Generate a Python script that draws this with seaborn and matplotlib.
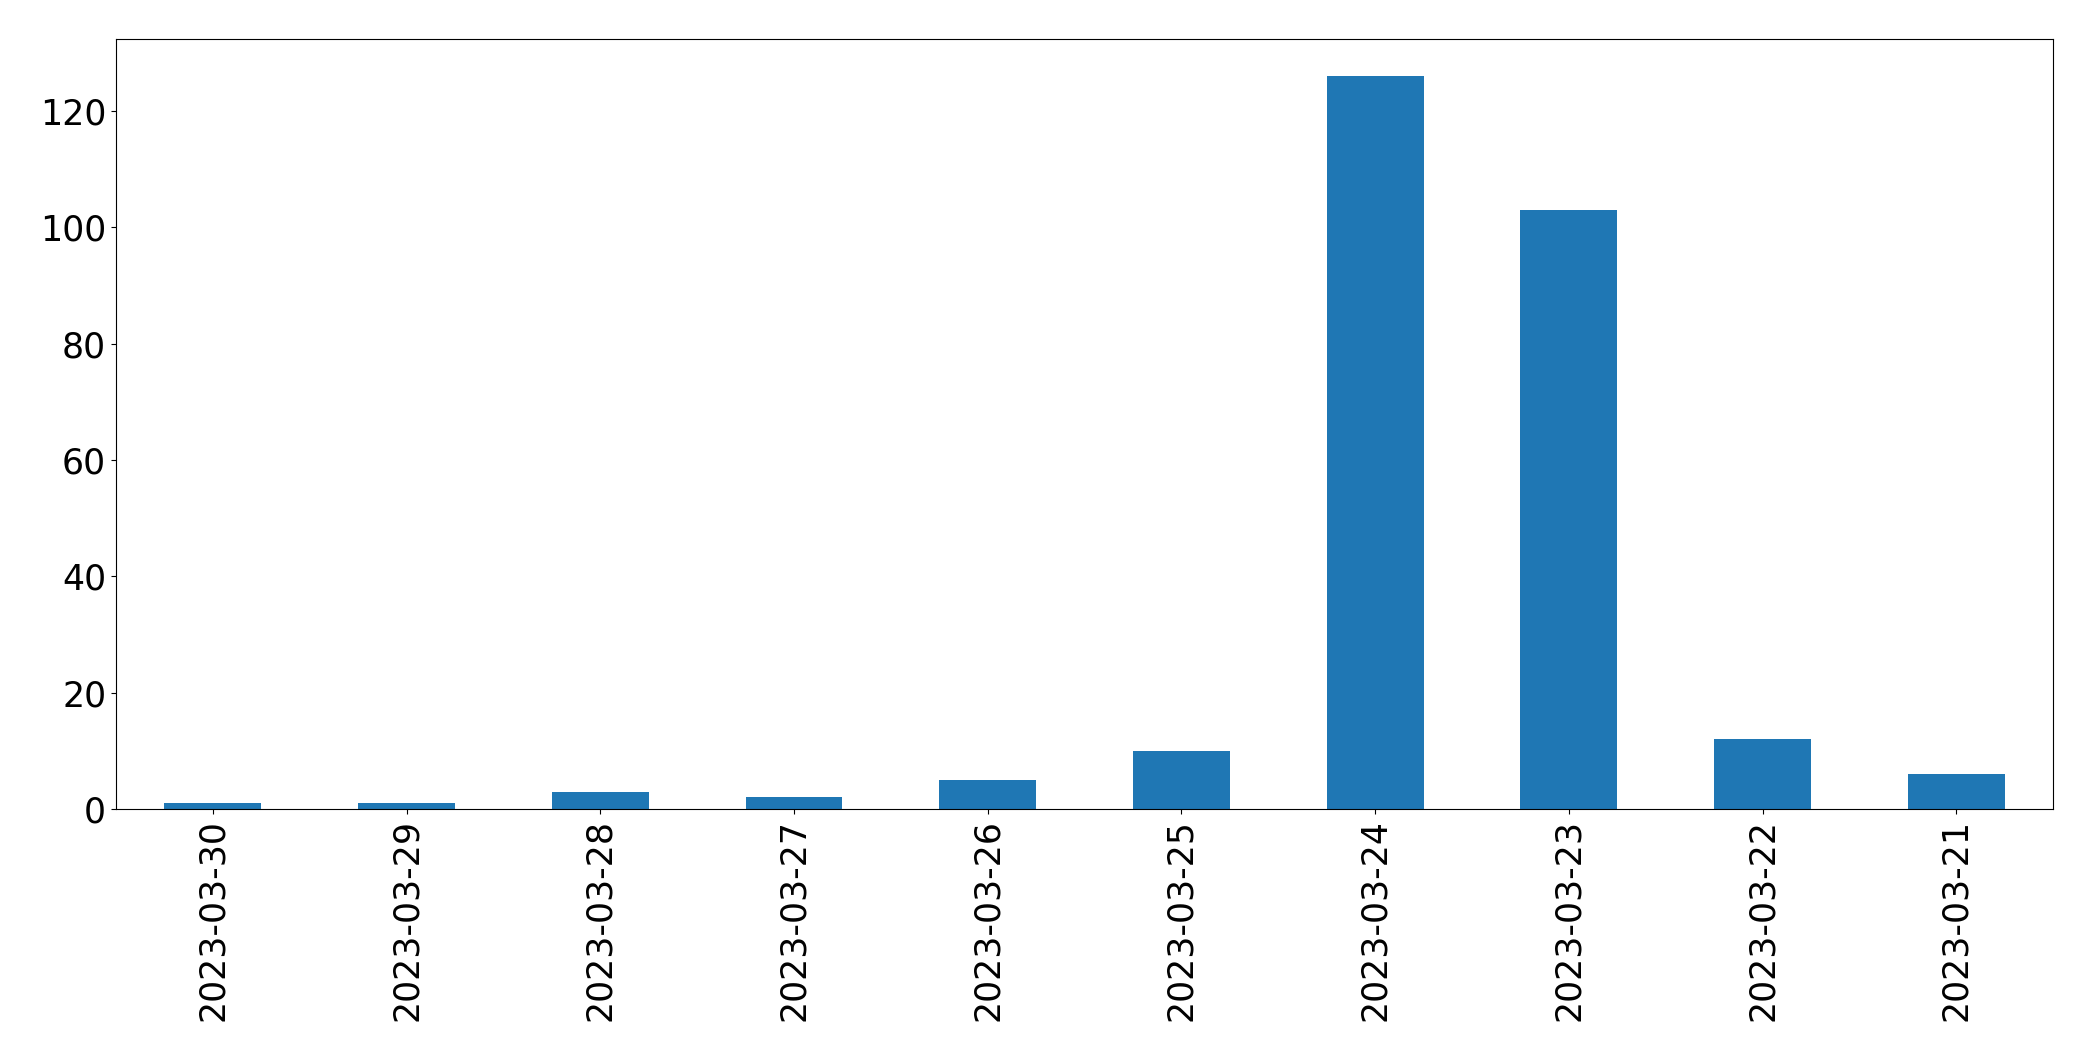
import matplotlib
matplotlib.use("Agg")
import matplotlib.pyplot as plt
import seaborn as sns
import pandas as pd

dates = ["2023-03-30", "2023-03-29", "2023-03-28", "2023-03-27", "2023-03-26",
         "2023-03-25", "2023-03-24", "2023-03-23", "2023-03-22", "2023-03-21"]
counts = [1, 1, 3, 2, 5, 10, 126, 103, 12, 6]

df = pd.DataFrame({"date": dates, "count": counts})

fig, ax = plt.subplots(figsize=(20.93, 10.61), dpi=100)
sns.barplot(data=df, x="date", y="count", order=dates, color="#1f77b4",
            saturation=1, width=0.5, linewidth=0, ax=ax)
ax.set_xlim(-0.5, len(dates) - 0.5)
ax.set_xlabel("")
ax.set_ylabel("")
for s in ax.spines.values():
    s.set_color("black")
ax.tick_params(axis="both", labelsize=25, colors="black")
ax.tick_params(axis="x", rotation=90)
fig.subplots_adjust(left=0.0554, right=0.981, top=0.963, bottom=0.2375)
fig.savefig("out.png", dpi=100)
